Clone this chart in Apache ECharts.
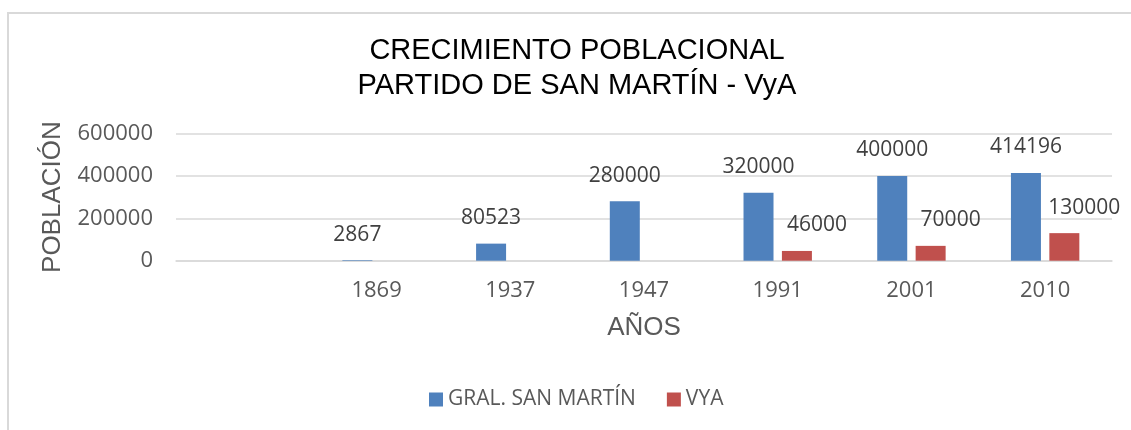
<!DOCTYPE html>
<html>
<head>
<meta charset="utf-8">
<script src="https://cdn.jsdelivr.net/npm/echarts@6/dist/echarts.min.js"></script>
<style>
html,body{margin:0;padding:0;background:#fff;}
#chart{width:1131px;height:430px;}
</style>
</head>
<body>
<div id="chart"></div>
<script>
const categories = ['', '1869', '1937', '1947', '1991', '2001', '2010'];
const sanMartin = [null, 2867, 80523, 280000, 320000, 400000, 414196];
const vya = [null, null, null, null, 46000, 70000, 130000];
const seriesNames = ['GRAL. SAN MARTÍN', 'VYA'];
const titleLines = ['CRECIMIENTO POBLACIONAL', 'PARTIDO DE SAN MARTÍN - VyA'];

const numFont = '"Open Sans", sans-serif';
const chart = echarts.init(document.getElementById('chart'));
chart.setOption({
  animation: false,
  backgroundColor: '#fff',
  graphic: [{
    type: 'polyline',
    silent: true,
    shape: { points: [[8, 430], [8, 13], [1131, 13]] },
    style: { stroke: '#d9d9d9', lineWidth: 2, fill: null }
  }],
  title: {
    text: titleLines.join('\n'),
    left: 572,
    top: 28,
    textAlign: 'center',
    textStyle: { fontFamily: '"Liberation Sans", Arial, sans-serif', fontSize: 29, fontWeight: 'normal', color: '#000', lineHeight: 35 }
  },
  legend: {
    left: 424,
    top: 384,
    itemWidth: 14,
    itemHeight: 14,
    itemGap: 31,
    icon: 'rect',
    textStyle: { fontFamily: numFont, fontSize: 21, color: '#595959' },
    data: seriesNames
  },
  grid: { left: 176, right: 19, top: 133.5, bottom: 169.3 },
  xAxis: {
    type: 'category',
    data: categories,
    name: 'AÑOS',
    nameLocation: 'middle',
    nameGap: 54,
    nameTextStyle: { fontFamily: '"Liberation Sans", Arial, sans-serif', fontSize: 26, color: '#595959' },
    axisTick: { show: false },
    axisLine: { lineStyle: { color: '#d9d9d9', width: 1.5 } },
    axisLabel: { fontFamily: numFont, fontSize: 22, color: '#595959', margin: 19 }
  },
  yAxis: {
    type: 'value',
    min: 0,
    max: 600000,
    interval: 200000,
    name: 'POBLACIÓN',
    nameLocation: 'middle',
    nameGap: 110,
    nameTextStyle: { fontFamily: '"Liberation Sans", Arial, sans-serif', fontSize: 26, color: '#595959' },
    axisLine: { show: false },
    axisTick: { show: false },
    splitLine: { lineStyle: { color: '#d9d9d9', width: 1.5 } },
    axisLabel: { fontFamily: numFont, fontSize: 22, color: '#595959', margin: 23, formatter: v => String(v) }
  },
  series: [
    {
      name: seriesNames[0],
      type: 'bar',
      data: sanMartin,
      barWidth: 30,
      barGap: '28%',
      itemStyle: { color: '#4f81bd' },
      label: { show: true, position: 'top', distance: 15, fontFamily: numFont, fontSize: 21, color: '#404040' }
    },
    {
      name: seriesNames[1],
      type: 'bar',
      data: vya,
      barWidth: 30,
      itemStyle: { color: '#c0504d' },
      label: { show: true, position: 'top', distance: 15, offset: [20, 0], fontFamily: numFont, fontSize: 21, color: '#404040' }
    }
  ]
});
</script>
</body>
</html>
